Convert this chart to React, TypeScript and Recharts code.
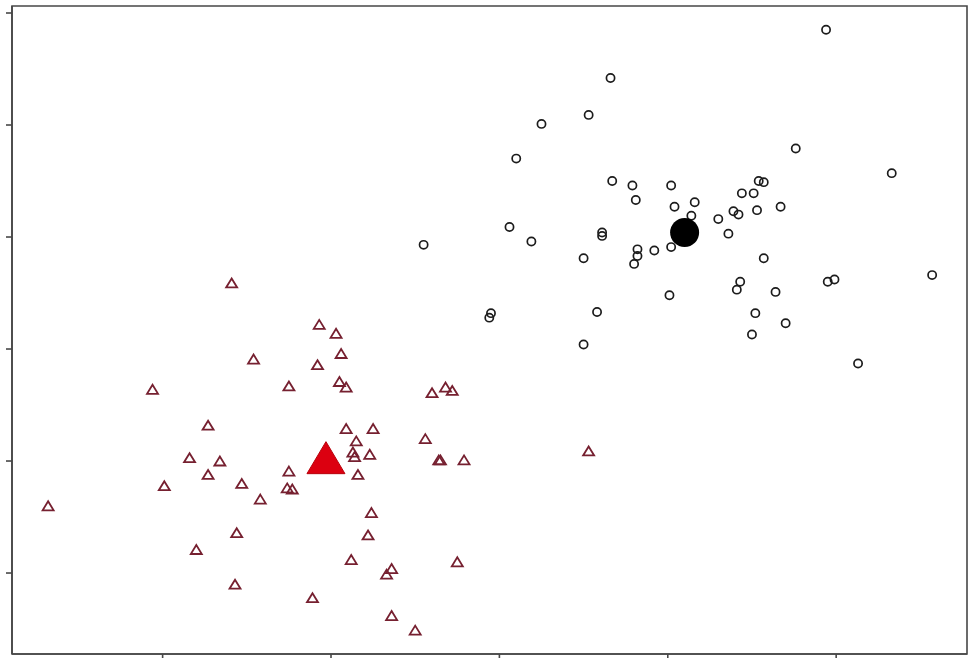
import { ScatterChart, Scatter, XAxis, YAxis, ReferenceArea } from 'recharts';

// axis ticks (the plot carries tick marks only, no labels)
const xTicks = [1, 2, 3, 4, 5];
const yTicks = [0, 1, 2, 3, 4, 5];
const xDomain: [number, number] = [0.1055, 5.777];
const yDomain: [number, number] = [-0.723, 5.0625];

// cluster A: open circles
const circleX = [
  3.66, 3.53, 3.25, 3.1, 3.67, 3.79, 3.81, 3.06, 3.19, 3.61, 3.61, 2.55, 3.5,
  3.82, 3.82, 3.8, 2.95, 2.94, 3.58, 4.94, 4.76, 5.33, 4.02, 4.54, 4.57, 4.44,
  4.51, 4.04, 4.16, 4.39, 4.42, 4.53, 4.67, 4.14, 4.3, 4.36, 4.02, 3.92, 4.57,
  4.43, 4.41, 4.64, 4.95, 4.99, 5.57, 4.01, 4.52, 4.7, 4.5, 5.13, 3.5,
];
const circleY = [
  4.42, 4.09, 4.01, 3.7, 3.5, 3.46, 3.33, 3.09, 2.96, 3.04, 3.01, 2.93, 2.81,
  2.89, 2.83, 2.76, 2.32, 2.28, 2.33, 4.85, 3.79, 3.57, 3.46, 3.5, 3.49, 3.39,
  3.39, 3.27, 3.31, 3.23, 3.2, 3.24, 3.27, 3.19, 3.16, 3.03, 2.91, 2.88, 2.81,
  2.6, 2.53, 2.51, 2.6, 2.62, 2.66, 2.48, 2.32, 2.23, 2.13, 1.87, 2.04,
];
const circleCentre = [4.1, 3.04];

// cluster B: open triangles
const triangleX = [
  1.41, 1.93, 2.03, 1.54, 1.92, 2.06, 0.94, 1.75, 2.05, 2.09, 2.6, 2.68, 2.72,
  1.27, 2.09, 2.25, 2.15, 2.56, 1.16, 1.34, 1.75, 2.13, 2.14, 2.23, 2.64, 2.65,
  2.79, 1.27, 2.16, 1.01, 1.47, 1.74, 1.77, 1.58, 0.32, 1.44, 1.2, 1.43, 1.89,
  2.24, 2.22, 2.12, 2.36, 2.33, 2.75, 2.36, 2.5, 3.53,
];
const triangleY = [
  2.59, 2.22, 2.14, 1.91, 1.86, 1.96, 1.64, 1.67, 1.71, 1.66, 1.61, 1.66, 1.63,
  1.32, 1.29, 1.29, 1.18, 1.2, 1.03, 1.0, 0.91, 1.08, 1.04, 1.06, 1.01, 1.01,
  1.01, 0.88, 0.88, 0.78, 0.8, 0.76, 0.75, 0.66, 0.6, 0.36, 0.21, -0.1, -0.22,
  0.54, 0.34, 0.12, 0.04, -0.01, 0.1, -0.38, -0.51, 1.09,
];
const triangleCentre = [1.97, 1.03];

const circles = circleX.map((x, i) => ({ x, y: circleY[i] }));
const triangles = triangleX.map((x, i) => ({ x, y: triangleY[i] }));
const circleMean = [{ x: circleCentre[0], y: circleCentre[1] }];
const triangleMean = [{ x: triangleCentre[0], y: triangleCentre[1] }];

const frame = '#474747';

function trianglePath(cx: number, cy: number, w: number, h: number) {
  return `M${cx},${cy - h / 2}L${cx + w / 2},${cy + h / 2}L${cx - w / 2},${cy + h / 2}Z`;
}

const Ring = (p: any) => (
  <circle cx={p.cx} cy={p.cy} r={4.1} fill="none" stroke="#1c1c1c" strokeWidth={1.7} />
);
const BigDot = (p: any) => <circle cx={p.cx} cy={p.cy} r={14.5} fill="#000" />;
const Tri = (p: any) => (
  <path d={trianglePath(p.cx, p.cy, 11, 9)} fill="none" stroke="#762030" strokeWidth={1.8} />
);
const BigTri = (p: any) => (
  <path d={trianglePath(p.cx, p.cy, 38, 32)} fill="#dc0010" stroke="#b8000a" strokeWidth={1} />
);

export default function App() {
  return (
    <div style={{ position: 'absolute', left: 0, top: 0, width: 973, height: 658, background: '#fff' }}>
      <ScatterChart width={973} height={658} margin={{ top: 6, right: 6, bottom: 0, left: 0 }}>
        <XAxis
          type="number"
          dataKey="x"
          domain={xDomain}
          ticks={xTicks}
          allowDataOverflow
          height={4}
          tickSize={6}
          tickFormatter={() => ''}
          axisLine={{ stroke: frame, strokeWidth: 1.6 }}
          tickLine={{ stroke: frame, strokeWidth: 1.6 }}
        />
        <YAxis
          type="number"
          dataKey="y"
          domain={yDomain}
          ticks={yTicks}
          allowDataOverflow
          width={12}
          tickSize={6}
          tickFormatter={() => ''}
          axisLine={{ stroke: frame, strokeWidth: 1.6 }}
          tickLine={{ stroke: frame, strokeWidth: 1.6 }}
        />
        <ReferenceArea
          x1={xDomain[0]}
          x2={xDomain[1]}
          y1={yDomain[0]}
          y2={yDomain[1]}
          fill="none"
          stroke={frame}
          strokeWidth={1.6}
          ifOverflow="visible"
        />
        <Scatter data={circles} shape={Ring} isAnimationActive={false} />
        <Scatter data={triangles} shape={Tri} isAnimationActive={false} />
        <Scatter data={circleMean} shape={BigDot} isAnimationActive={false} />
        <Scatter data={triangleMean} shape={BigTri} isAnimationActive={false} />
      </ScatterChart>
    </div>
  );
}
